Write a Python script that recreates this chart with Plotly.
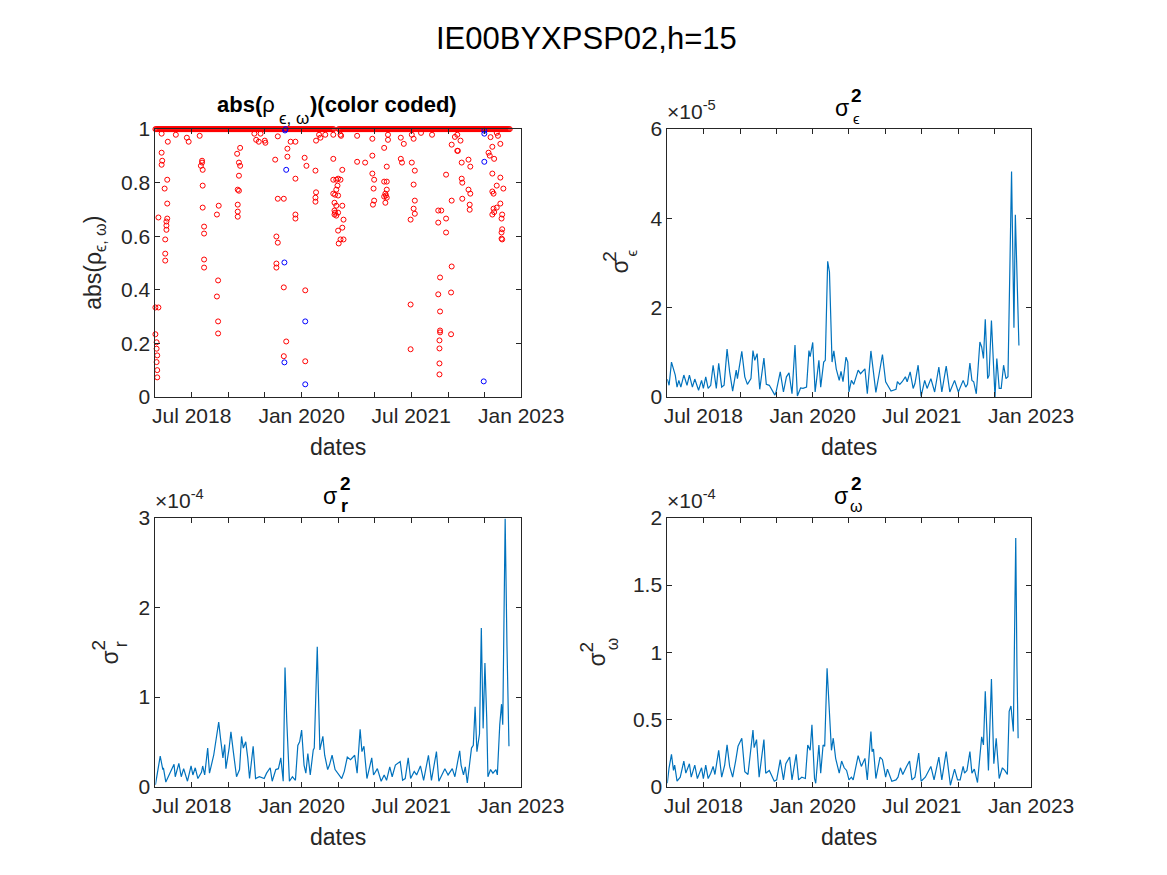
import plotly.graph_objects as go
import pandas as pd

# figure kept a little smaller than the window so the page does not overflow
W, H = 1151, 859
OX, OY = 8, 8          # page margin in px
SX, SY, DY = 0.965, 0.974, 10   # page -> screenshot mapping seen in test runs
FONT = "Liberation Sans, Arial, Helvetica, sans-serif"
AX = "#262626"
LINE = "#0072BD"

# sigma_eps^2, values in units of 1e-5
eps_dates = ["2018-01-01", "2018-01-10", "2018-01-22", "2018-02-10", "2018-02-19", "2018-02-28", "2018-03-10",
             "2018-03-25", "2018-04-10", "2018-04-22", "2018-05-07", "2018-05-19", "2018-06-07", "2018-06-22",
             "2018-07-01", "2018-07-13", "2018-07-25", "2018-08-07", "2018-08-19", "2018-09-04", "2018-09-16",
             "2018-10-01", "2018-10-13", "2018-10-28", "2018-11-10", "2018-11-25", "2018-12-13", "2018-12-19",
             "2019-01-10", "2019-01-25", "2019-02-07", "2019-02-25", "2019-03-07", "2019-03-16", "2019-03-28",
             "2019-04-10", "2019-05-01", "2019-05-13", "2019-05-28", "2019-06-25", "2019-07-01", "2019-07-22",
             "2019-08-07", "2019-08-22", "2019-09-04", "2019-09-19", "2019-10-04", "2019-10-16", "2019-11-01",
             "2019-11-13", "2019-12-01", "2019-12-13", "2019-12-19", "2020-01-01", "2020-01-13", "2020-02-01",
             "2020-02-10", "2020-02-25", "2020-03-04", "2020-03-16", "2020-03-25", "2020-04-07", "2020-04-16",
             "2020-04-28", "2020-05-13", "2020-05-22", "2020-06-01", "2020-06-16", "2020-06-25", "2020-07-01",
             "2020-07-13", "2020-07-25", "2020-08-16", "2020-08-28", "2020-09-19", "2020-10-01", "2020-10-19",
             "2020-10-28", "2020-11-13", "2020-11-28", "2020-12-16", "2021-01-01", "2021-01-28", "2021-02-22",
             "2021-03-01", "2021-03-13", "2021-03-25", "2021-04-10", "2021-04-19", "2021-05-04", "2021-05-19",
             "2021-05-28", "2021-06-13", "2021-06-28", "2021-07-16", "2021-07-28", "2021-08-16", "2021-09-04",
             "2021-09-25", "2021-10-10", "2021-11-01", "2021-11-19", "2021-12-13", "2022-01-01", "2022-01-25",
             "2022-02-07", "2022-02-16", "2022-02-28", "2022-03-10", "2022-03-19", "2022-04-01", "2022-04-19",
             "2022-04-28", "2022-05-07", "2022-05-16", "2022-05-28", "2022-06-04", "2022-06-16", "2022-07-04",
             "2022-07-13", "2022-07-25", "2022-08-04", "2022-08-16", "2022-08-28", "2022-09-07", "2022-09-25",
             "2022-10-07", "2022-10-14", "2022-11-01"]
eps_vals = [0.40, 0.26, 0.78, 0.49, 0.22, 0.37, 0.22, 0.49, 0.26, 0.49, 0.22, 0.40, 0.15, 0.37,
            0.19, 0.45, 0.19, 0.26, 0.71, 0.19, 0.75, 0.22, 0.26, 1.07, 0.56, 0.13, 0.60, 0.41,
            1.02, 0.45, 0.28, 0.41, 1.04, 0.82, 0.97, 0.17, 0.87, 0.28, 0.26, 0.04, 0.11, 0.56,
            0.11, 0.45, 0.54, 0.07, 1.16, 0.02, 0.20, 0.19, 0.22, 1.04, 0.90, 1.22, 0.11, 0.82,
            0.22, 0.78, 0.82, 3.04, 2.80, 0.78, 1.03, 0.63, 0.37, 0.57, 0.34, 0.89, 0.78, 0.11,
            0.37, 0.28, 0.60, 0.52, 0.63, 0.07, 1.03, 0.69, 0.10, 0.48, 0.95, 0.34, 0.13, 0.17,
            0.34, 0.28, 0.34, 0.45, 0.34, 0.56, 0.19, 0.30, 0.71, 0.01, 0.37, 0.19, 0.41, 0.11,
            0.67, 0.11, 0.69, 0.11, 0.37, 0.11, 0.37, 0.22, 0.28, 0.76, 0.37, 0.34, 0.07, 1.23,
            1.12, 0.86, 1.74, 0.41, 0.48, 1.71, 0.00, 0.86, 0.19, 0.19, 0.71, 0.41, 0.45, 5.05,
            1.55, 4.08, 1.15]

# sigma_r^2, values in units of 1e-4
r_dates = ["2018-01-01", "2018-01-13", "2018-01-25", "2018-02-07", "2018-02-10", "2018-02-22", "2018-03-07",
           "2018-03-25", "2018-04-04", "2018-04-10", "2018-04-28", "2018-05-10", "2018-05-22", "2018-06-10",
           "2018-06-28", "2018-07-07", "2018-07-19", "2018-08-01", "2018-08-19", "2018-08-25", "2018-09-04",
           "2018-09-19", "2018-09-28", "2018-10-19", "2018-11-01", "2018-11-13", "2018-11-22", "2018-12-04",
           "2018-12-13", "2018-12-19", "2019-01-04", "2019-01-13", "2019-01-25", "2019-02-10", "2019-02-25",
           "2019-03-07", "2019-03-16", "2019-03-28", "2019-04-07", "2019-04-16", "2019-05-04", "2019-05-16",
           "2019-06-04", "2019-06-28", "2019-07-10", "2019-07-28", "2019-08-07", "2019-08-25", "2019-09-07",
           "2019-09-19", "2019-10-01", "2019-10-10", "2019-10-19", "2019-11-01", "2019-11-16", "2019-12-01",
           "2019-12-13", "2019-12-22", "2020-01-01", "2020-01-13", "2020-01-22", "2020-02-01", "2020-02-13",
           "2020-02-28", "2020-03-04", "2020-03-19", "2020-04-01", "2020-04-16", "2020-04-25", "2020-05-10",
           "2020-05-19", "2020-06-01", "2020-06-16", "2020-07-04", "2020-07-19", "2020-08-01", "2020-08-16",
           "2020-09-01", "2020-09-22", "2020-10-04", "2020-10-19", "2020-10-28", "2020-11-07", "2020-11-22",
           "2020-12-16", "2020-12-25", "2021-01-13", "2021-02-01", "2021-02-16", "2021-02-28", "2021-03-16",
           "2021-03-28", "2021-04-13", "2021-05-07", "2021-05-19", "2021-06-01", "2021-06-16", "2021-06-28",
           "2021-07-16", "2021-07-28", "2021-08-16", "2021-09-01", "2021-09-25", "2021-10-10", "2021-11-04",
           "2021-11-16", "2021-12-16", "2022-01-01", "2022-01-22", "2022-02-04", "2022-02-28", "2022-03-07",
           "2022-03-19", "2022-03-28", "2022-04-07", "2022-04-28", "2022-05-07", "2022-05-16", "2022-05-25",
           "2022-06-07", "2022-06-16", "2022-06-25", "2022-07-04", "2022-07-13", "2022-07-19", "2022-08-01",
           "2022-08-13", "2022-08-28", "2022-09-04", "2022-09-16", "2022-09-25", "2022-10-01", "2022-10-13",
           "2022-10-22", "2022-11-01"]
r_vals = [0.02, 0.20, 0.34, 0.19, 0.21, 0.05, 0.11, 0.19, 0.25, 0.11, 0.26, 0.11, 0.20, 0.06,
          0.23, 0.13, 0.21, 0.09, 0.16, 0.23, 0.13, 0.43, 0.15, 0.35, 0.52, 0.72, 0.54, 0.32,
          0.47, 0.20, 0.43, 0.61, 0.39, 0.11, 0.19, 0.56, 0.43, 0.50, 0.32, 0.09, 0.45, 0.09,
          0.11, 0.09, 0.15, 0.21, 0.06, 0.19, 0.20, 0.32, 0.06, 1.33, 0.72, 0.06, 0.11, 0.07,
          0.46, 0.50, 0.63, 0.24, 0.15, 0.37, 0.13, 0.41, 0.43, 1.56, 0.41, 0.56, 0.35, 0.19,
          0.24, 0.35, 0.19, 0.13, 0.09, 0.17, 0.33, 0.30, 0.35, 0.15, 0.64, 0.39, 0.45, 0.09,
          0.32, 0.13, 0.20, 0.06, 0.13, 0.07, 0.22, 0.11, 0.24, 0.28, 0.07, 0.09, 0.32, 0.09,
          0.17, 0.13, 0.23, 0.07, 0.35, 0.07, 0.39, 0.06, 0.20, 0.13, 0.20, 0.11, 0.40, 0.24,
          0.13, 0.22, 0.04, 0.43, 0.46, 0.89, 0.39, 0.59, 1.77, 0.65, 1.38, 0.76, 0.11, 0.19,
          0.15, 0.19, 0.13, 0.69, 0.92, 0.69, 2.99, 1.58, 0.45]

# sigma_omega^2, values in units of 1e-4
w_dates = ["2018-01-01", "2018-01-10", "2018-01-22", "2018-02-01", "2018-02-07", "2018-02-19", "2018-03-07",
           "2018-03-25", "2018-04-04", "2018-04-22", "2018-05-01", "2018-05-19", "2018-06-01", "2018-06-22",
           "2018-07-01", "2018-07-13", "2018-07-25", "2018-08-07", "2018-08-19", "2018-08-28", "2018-09-16",
           "2018-10-01", "2018-10-16", "2018-10-28", "2018-11-10", "2018-11-25", "2018-12-10", "2018-12-22",
           "2019-01-10", "2019-01-25", "2019-02-10", "2019-03-07", "2019-03-13", "2019-03-25", "2019-04-07",
           "2019-05-01", "2019-05-10", "2019-05-28", "2019-06-22", "2019-07-04", "2019-07-22", "2019-08-07",
           "2019-08-19", "2019-09-07", "2019-09-19", "2019-10-10", "2019-10-22", "2019-11-07", "2019-11-25",
           "2019-12-07", "2019-12-19", "2019-12-28", "2020-01-10", "2020-01-16", "2020-02-01", "2020-02-10",
           "2020-02-22", "2020-03-01", "2020-03-13", "2020-03-25", "2020-04-04", "2020-04-13", "2020-04-25",
           "2020-05-13", "2020-05-25", "2020-06-07", "2020-06-19", "2020-07-01", "2020-07-13", "2020-07-22",
           "2020-08-16", "2020-09-01", "2020-09-19", "2020-10-01", "2020-10-19", "2020-10-25", "2020-11-01",
           "2020-11-13", "2020-12-04", "2020-12-16", "2021-01-01", "2021-01-10", "2021-02-01", "2021-02-22",
           "2021-03-04", "2021-03-16", "2021-03-28", "2021-04-16", "2021-05-01", "2021-05-13", "2021-05-28",
           "2021-06-16", "2021-06-28", "2021-07-19", "2021-08-16", "2021-09-01", "2021-09-25", "2021-10-10",
           "2021-11-01", "2021-11-22", "2021-12-13", "2021-12-28", "2022-01-10", "2022-01-25", "2022-02-01",
           "2022-02-13", "2022-02-28", "2022-03-10", "2022-03-22", "2022-04-07", "2022-04-28", "2022-05-07",
           "2022-05-16", "2022-06-01", "2022-06-16", "2022-06-28", "2022-07-10", "2022-07-25", "2022-08-10",
           "2022-08-22", "2022-09-04", "2022-09-13", "2022-09-22", "2022-10-04", "2022-10-16", "2022-10-22",
           "2022-10-28"]
w_vals = [0.025, 0.14, 0.24, 0.12, 0.16, 0.04, 0.07, 0.19, 0.10, 0.17, 0.07, 0.16, 0.06, 0.14,
          0.06, 0.16, 0.06, 0.10, 0.15, 0.09, 0.27, 0.07, 0.16, 0.31, 0.15, 0.07, 0.19, 0.30,
          0.36, 0.11, 0.09, 0.42, 0.29, 0.35, 0.07, 0.35, 0.10, 0.12, 0.04, 0.05, 0.20, 0.05,
          0.17, 0.22, 0.05, 0.24, 0.05, 0.07, 0.06, 0.31, 0.27, 0.46, 0.06, 0.025, 0.31, 0.10,
          0.31, 0.30, 0.88, 0.53, 0.27, 0.36, 0.21, 0.10, 0.19, 0.14, 0.12, 0.05, 0.07, 0.05,
          0.23, 0.15, 0.21, 0.05, 0.41, 0.26, 0.28, 0.06, 0.22, 0.20, 0.07, 0.13, 0.04, 0.05,
          0.07, 0.14, 0.09, 0.15, 0.19, 0.05, 0.07, 0.25, 0.04, 0.07, 0.15, 0.05, 0.22, 0.05,
          0.26, 0.01, 0.13, 0.05, 0.05, 0.15, 0.10, 0.12, 0.26, 0.10, 0.13, 0.03, 0.37, 0.31,
          0.71, 0.12, 0.80, 0.17, 0.36, 0.06, 0.14, 0.12, 0.09, 0.56, 0.60, 0.41, 1.85, 0.90,
          0.36]

# abs(rho): points away from 1, red = one sign, blue = other
red_dates = ["2018-01-01", "2018-01-16", "2018-01-01", "2018-01-07", "2018-01-07", "2018-01-10", "2018-01-07",
             "2018-01-10", "2018-01-10", "2018-01-16", "2018-02-01", "2018-02-04", "2018-02-01", "2018-03-01",
             "2018-02-16", "2018-03-01", "2018-03-01", "2018-02-25", "2018-02-25", "2018-02-25", "2018-02-19",
             "2018-02-19", "2018-02-19", "2018-03-04", "2018-02-01", "2018-04-13", "2018-06-07", "2018-06-16",
             "2018-08-10", "2018-08-22", "2018-08-22", "2018-08-16", "2018-08-25", "2018-08-25", "2018-08-25",
             "2018-09-01", "2018-09-01", "2018-09-01", "2018-09-01", "2018-11-13", "2018-11-04", "2018-11-10",
             "2018-11-04", "2018-11-10", "2018-11-10", "2019-02-28", "2019-02-13", "2019-02-22", "2019-02-28",
             "2019-02-22", "2019-02-16", "2019-02-22", "2019-02-16", "2019-02-16", "2019-02-16", "2019-05-10",
             "2019-05-19", "2019-06-01", "2019-06-10", "2019-07-01", "2019-07-04", "2019-09-04", "2019-08-22",
             "2019-10-22", "2019-10-22", "2019-11-07", "2019-12-01", "2019-09-04", "2019-10-04", "2019-08-28",
             "2019-09-04", "2019-08-28", "2019-08-28", "2019-10-04", "2019-10-04", "2019-10-16", "2019-12-01",
             "2019-12-01", "2019-12-01", "2020-01-19", "2020-01-19", "2020-01-16", "2020-01-25", "2020-03-13",
             "2020-03-10", "2020-03-13", "2020-03-10", "2020-03-10", "2020-03-28", "2020-04-28", "2020-04-04",
             "2020-06-07", "2020-06-07", "2020-06-22", "2020-07-01", "2020-07-13", "2020-07-22", "2020-06-28",
             "2020-06-22", "2020-06-07", "2020-06-16", "2020-07-01", "2020-07-22", "2020-06-13", "2020-06-22",
             "2020-06-13", "2020-06-16", "2020-06-22", "2020-07-01", "2020-07-28", "2020-07-22", "2020-07-01",
             "2020-07-13", "2020-07-28", "2020-07-04", "2020-06-13", "2020-06-07", "2020-07-13", "2020-07-16",
             "2020-10-04", "2020-10-04", "2020-11-13", "2020-12-19", "2020-12-19", "2020-12-19", "2020-12-28",
             "2020-12-25", "2020-12-28", "2020-12-22", "2021-02-16", "2021-03-07", "2021-03-07", "2021-03-01",
             "2021-02-16", "2021-03-01", "2021-03-01", "2021-02-22", "2021-02-25", "2021-02-16", "2021-03-01",
             "2021-02-22", "2021-05-10", "2021-05-25", "2021-05-10", "2021-05-16", "2021-07-04", "2021-07-13",
             "2021-07-04", "2021-07-19", "2021-07-13", "2021-07-19", "2021-07-13", "2021-07-19", "2021-06-28",
             "2021-06-28", "2021-06-28", "2021-08-19", "2021-10-13", "2021-11-13", "2021-11-28", "2021-11-13",
             "2021-12-22", "2021-12-22", "2021-12-22", "2021-11-22", "2021-11-13", "2021-11-22", "2021-11-22",
             "2021-11-22", "2021-11-19", "2021-11-19", "2021-11-19", "2021-11-19", "2022-01-19", "2022-01-19",
             "2022-01-16", "2022-01-16", "2022-01-19", "2022-02-04", "2022-02-16", "2022-02-19", "2022-03-04",
             "2022-03-10", "2022-03-10", "2022-03-13", "2022-03-13", "2022-04-13", "2022-04-22", "2022-04-13",
             "2022-04-22", "2022-04-19", "2022-04-19", "2022-02-16", "2022-07-22", "2022-07-28", "2022-08-10",
             "2022-08-10", "2022-08-19", "2022-08-10", "2022-08-16", "2022-09-01", "2022-08-16", "2022-08-10",
             "2022-08-19", "2022-09-01", "2022-09-19", "2022-09-19", "2022-10-04", "2022-09-19", "2022-09-25",
             "2022-09-28", "2022-09-28", "2022-09-25", "2022-09-25", "2022-09-28", "2022-09-07", "2022-08-01",
             "2022-09-01"]
red_vals = [0.334, 0.334, 0.234, 0.204, 0.180, 0.155, 0.130, 0.100, 0.073, 0.670, 0.912, 0.882, 0.867, 0.811,
            0.778, 0.722, 0.666, 0.655, 0.640, 0.624, 0.588, 0.535, 0.509, 0.953, 0.983, 0.979, 0.968, 0.953,
            0.975, 0.882, 0.875, 0.863, 0.848, 0.789, 0.707, 0.636, 0.610, 0.513, 0.483, 0.714, 0.681, 0.435,
            0.375, 0.282, 0.237, 0.930, 0.908, 0.875, 0.863, 0.826, 0.774, 0.770, 0.718, 0.692, 0.673, 0.983,
            0.960, 0.953, 0.983, 0.957, 0.949, 0.973, 0.886, 0.927, 0.897, 0.953, 0.953, 0.740, 0.740, 0.599,
            0.576, 0.498, 0.483, 0.409, 0.152, 0.207, 0.815, 0.681, 0.666, 0.398, 0.133, 0.893, 0.863, 0.957,
            0.845, 0.764, 0.744, 0.729, 0.979, 0.979, 0.968, 0.889, 0.811, 0.811, 0.815, 0.811, 0.848, 0.789,
            0.774, 0.759, 0.755, 0.752, 0.714, 0.725, 0.714, 0.696, 0.688, 0.677, 0.688, 0.662, 0.632, 0.621,
            0.588, 0.588, 0.573, 0.681, 0.979, 0.979, 0.975, 0.975, 0.878, 0.875, 0.964, 0.901, 0.834, 0.811,
            0.778, 0.733, 0.718, 0.930, 0.979, 0.960, 0.860, 0.804, 0.804, 0.774, 0.759, 0.752, 0.748, 0.744,
            0.725, 0.968, 0.945, 0.889, 0.875, 0.979, 0.964, 0.875, 0.845, 0.793, 0.733, 0.703, 0.684, 0.662,
            0.345, 0.178, 0.986, 0.979, 0.696, 0.696, 0.651, 0.830, 0.666, 0.614, 0.446, 0.383, 0.319, 0.248,
            0.241, 0.211, 0.181, 0.125, 0.084, 0.733, 0.487, 0.390, 0.234, 0.942, 0.971, 0.919, 0.919, 0.957,
            0.875, 0.815, 0.800, 0.740, 0.886, 0.860, 0.774, 0.759, 0.718, 0.699, 0.979, 0.912, 0.901, 0.934,
            0.834, 0.889, 0.767, 0.759, 0.789, 0.703, 0.681, 0.690, 0.707, 0.945, 0.819, 0.778, 0.722, 0.666,
            0.681, 0.626, 0.614, 0.591, 0.588, 0.975, 0.970, 0.986]
blue_dates = ["2019-10-13", "2019-10-10", "2019-10-16", "2019-10-07", "2019-10-07", "2020-01-19", "2020-01-19",
              "2022-07-01", "2022-07-01", "2022-07-01", "2022-06-28"]
blue_vals = [1.0, 0.995, 0.848, 0.502, 0.129, 0.282, 0.047, 0.994, 0.983, 0.878, 0.058]

# days where abs(rho) sits at 1 (the solid band), with a short gap in mid 2020
band_dates = list(pd.date_range("2018-01-01", "2020-06-10", freq="5D")) + \
             list(pd.date_range("2020-07-03", "2022-11-05", freq="5D"))
band_vals = [1.0] * len(band_dates)


# positions below are given in screenshot pixels, converted to paper fractions
def px_x(p):
    return (p / SX - OX) / W


def px_y(p):
    return 1 - ((p - DY) / SY - OY) / H


fig = go.Figure()

fig.add_trace(go.Scatter(x=band_dates, y=band_vals, mode="markers", xaxis="x", yaxis="y", cliponaxis=False,
                         marker=dict(symbol="circle-open", size=5, color="#FF0000", line=dict(width=1))))
fig.add_trace(go.Scatter(x=red_dates, y=red_vals, mode="markers", xaxis="x", yaxis="y", cliponaxis=False,
                         marker=dict(symbol="circle-open", size=5, color="#FF0000", line=dict(width=1))))
fig.add_trace(go.Scatter(x=blue_dates, y=blue_vals, mode="markers", xaxis="x", yaxis="y", cliponaxis=False,
                         marker=dict(symbol="circle-open", size=5, color="#0000FF", line=dict(width=1))))
fig.add_trace(go.Scatter(x=eps_dates, y=eps_vals, mode="lines", xaxis="x2", yaxis="y2",
                         line=dict(color=LINE, width=1.2)))
fig.add_trace(go.Scatter(x=r_dates, y=r_vals, mode="lines", xaxis="x3", yaxis="y3",
                         line=dict(color=LINE, width=1.2)))
fig.add_trace(go.Scatter(x=w_dates, y=w_vals, mode="lines", xaxis="x4", yaxis="y4",
                         line=dict(color=LINE, width=1.2)))

# axes boxes in pixels: (left, right, top, bottom)
boxes = [(152, 520, 127, 395), (667, 1033, 127, 395), (152, 520, 516, 785), (667, 1033, 516, 785)]
yranges = [[0, 1], [0, 6], [0, 3], [0, 2]]
ydticks = [0.2, 2, 1, 0.5]

common = dict(showline=True, linecolor=AX, linewidth=1, mirror="ticks", ticks="inside", ticklen=5,
              tickcolor=AX, showgrid=False, zeroline=False,
              tickfont=dict(size=21, color=AX, family=FONT))

layout = dict(width=W, height=H, margin=dict(l=0, r=0, t=0, b=0), showlegend=False,
              plot_bgcolor="white", paper_bgcolor="white", font=dict(family=FONT, color=AX))
for i, (l, r, t, b) in enumerate(boxes):
    n = "" if i == 0 else str(i + 1)
    layout["xaxis" + n] = dict(common, domain=[px_x(l), px_x(r)], anchor="y" + n, type="date",
                               range=["2018-01-01", "2023-01-01"], dtick="M18", tick0="2018-07-01",
                               tickformat="%b %Y",
                               minor=dict(dtick="M6", tick0="2018-01-01", ticks="inside", ticklen=5,
                                          tickcolor=AX, showgrid=False))
    layout["yaxis" + n] = dict(common, domain=[px_y(b), px_y(t)], anchor="x" + n, range=yranges[i],
                               dtick=ydticks[i], tick0=0)
fig.update_layout(**layout)


def txt(text, x, y, size, angle=0, color="black", xanchor="center", yanchor="middle"):
    fig.add_annotation(text=text, x=px_x(x), y=px_y(y), xref="paper", yref="paper", showarrow=False,
                       textangle=angle, xanchor=xanchor, yanchor=yanchor, borderpad=0,
                       font=dict(size=size, color=color, family=FONT))


# main title
txt("IE00BYXPSP02,h=15", 586, 36, 31)

# x labels
for cx, cy in [(336, 445), (850, 445), (336, 835), (850, 835)]:
    txt("dates", cx, cy, 23, color=AX)

# exponent markers
txt("×10<sup>-5</sup>", 666, 122, 21, color=AX, xanchor="left", yanchor="bottom")
txt("×10<sup>-4</sup>", 151, 511, 21, color=AX, xanchor="left", yanchor="bottom")
txt("×10<sup>-4</sup>", 666, 511, 21, color=AX, xanchor="left", yanchor="bottom")

# top-left title, pieced so the subscript sits low like the original
txt("<b>abs(</b>ρ", 273, 102, 22, xanchor="right")
txt("ϵ, ω", 275, 116, 17, xanchor="left")
txt("<b>)(color coded)</b>", 307, 102, 22, xanchor="left")
txt("abs(ρ<sub>ϵ, ω</sub>)", 90, 261, 23, angle=-90, color=AX)

# stacked sigma titles: base, superscript, subscript positions
txt("σ", 843, 106, 23)
txt("<b>2</b>", 857, 93, 19)
txt("ϵ", 857, 116, 15)
txt("σ", 328, 494, 23)
txt("<b>2</b>", 343, 482, 19)
txt("<b>r</b>", 342, 504, 18)
txt("σ", 842, 494, 23)
txt("<b>2</b>", 857, 482, 19)
txt("ω", 857, 505, 16)

# stacked sigma y labels (rotated)
txt("σ", 619, 265, 23, angle=-90, color=AX)
txt("2", 608, 254, 19, angle=-90, color=AX)
txt("ϵ", 631, 251, 15, angle=-90, color=AX)
txt("σ", 106, 656, 23, angle=-90, color=AX)
txt("2", 95, 643, 19, angle=-90, color=AX)
txt("r", 117, 643, 18, angle=-90, color=AX)
txt("σ", 596, 658, 23, angle=-90, color=AX)
txt("2", 586, 645, 19, angle=-90, color=AX)
txt("ω", 612, 642, 16, angle=-90, color=AX)

fig.write_html("out.html")
